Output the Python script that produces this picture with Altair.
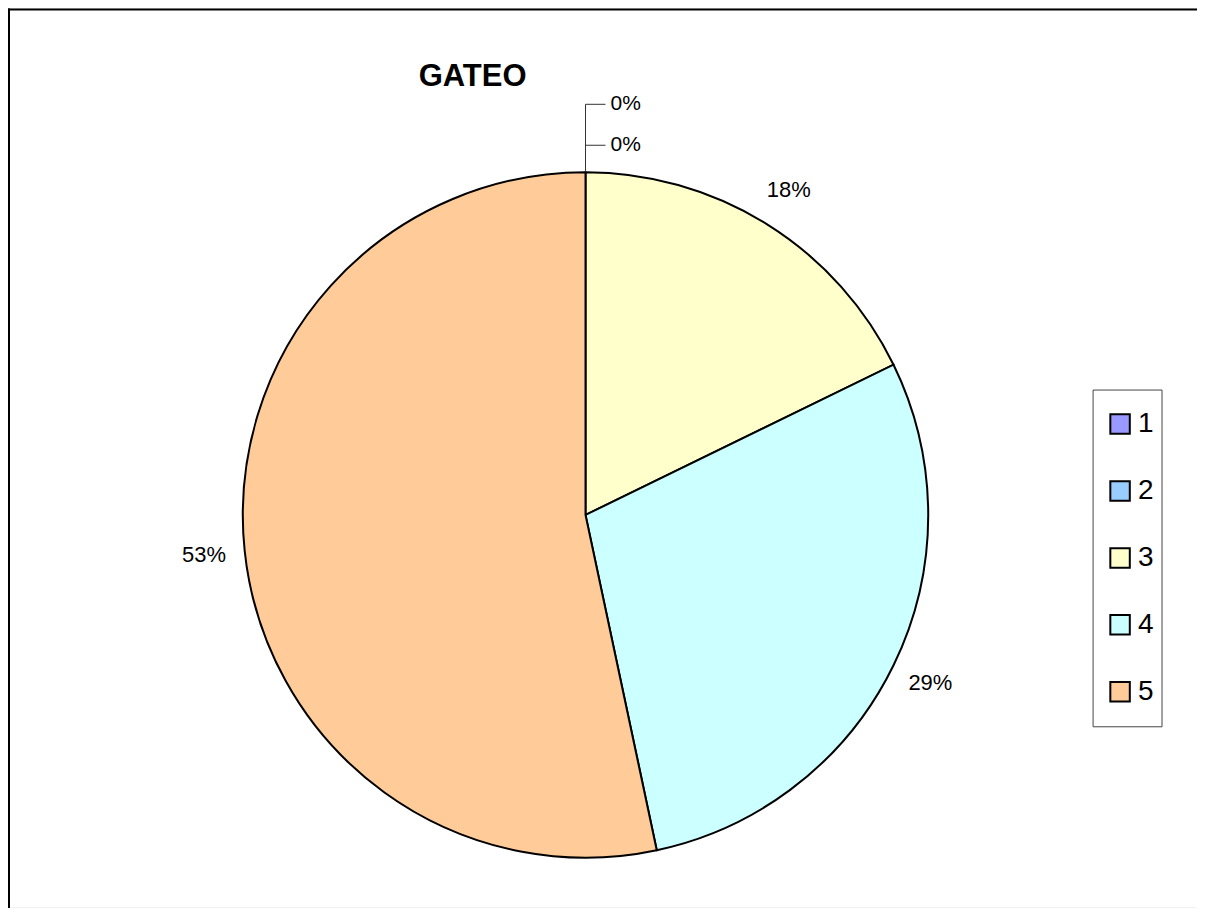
import altair as alt
import pandas as pd

categories = ["1", "2", "3", "4", "5"]
values = [0, 0, 8, 13, 24]
colors = ["#9999FF", "#99CCFF", "#FFFFCC", "#CCFFFF", "#FFCC99"]

df = pd.DataFrame({"category": categories, "value": values})

CX, CY = 578, 507
R = 343

color = alt.Color("category:N", scale=alt.Scale(domain=categories, range=colors),
                  legend=alt.Legend(title=None, orient="none", legendX=1099, legendY=402,
                                    symbolType="square", symbolSize=380,
                                    symbolStrokeColor="black", symbolStrokeWidth=2,
                                    labelFontSize=28, labelFont="Liberation Sans",
                                    labelColor="black", rowPadding=39, labelOffset=4,
                                    padding=0, symbolOpacity=1))

base = alt.Chart(df).transform_joinaggregate(total="sum(value)").transform_calculate(
    pct="datum.value / datum.total"
)

pie = base.mark_arc(radius=R, stroke="black", strokeWidth=2).encode(
    theta=alt.Theta("value:Q", stack=True),
    color=color,
    order=alt.Order("category:N"),
    x=alt.value(CX), y=alt.value(CY),
)

labels = base.mark_text(radius=384, fontSize=22, font="Liberation Sans", color="black").encode(
    theta=alt.Theta("value:Q", stack=True),
    text=alt.Text("pct:Q", format=".0%"),
    order=alt.Order("category:N"),
    x=alt.value(CX), y=alt.value(CY),
    opacity=alt.condition("datum.value > 0", alt.value(1), alt.value(0)),
)

zero = base.transform_filter("datum.value == 0").transform_window(
    rank="row_number()"
).transform_calculate(ly="96 + 41 * (datum.rank - 1)")

zero_text = zero.mark_text(align="left", baseline="middle", fontSize=21,
                           font="Liberation Sans", color="black").encode(
    x=alt.value(CX + 25),
    y=alt.Y("ly:Q", scale=None),
    text=alt.Text("pct:Q", format=".0%"),
)
zero_h = zero.mark_rule(color="#333333", strokeWidth=1).encode(
    x=alt.value(CX), x2=alt.value(CX + 20), y=alt.Y("ly:Q", scale=None)
)
zero_v = zero.mark_rule(color="#333333", strokeWidth=1).encode(
    x=alt.value(CX), y=alt.Y("ly:Q", scale=None), y2=alt.value(CY - R)
)

title = alt.Chart(df).mark_text(fontSize=31, fontWeight="bold", font="Liberation Sans",
                                color="black").encode(
    x=alt.value(465), y=alt.value(69), text=alt.value("GATEO")
).transform_filter("datum.category == '1'")

legend_box = alt.Chart(df).mark_rect(fill=None, stroke="#444444", strokeWidth=1).encode(
    x=alt.value(1086), x2=alt.value(1155), y=alt.value(382), y2=alt.value(719)
).transform_filter("datum.category == '1'")

frame_top = alt.Chart(df).mark_rule(color="black", strokeWidth=2).encode(
    x=alt.value(0), x2=alt.value(1300), y=alt.value(1)
).transform_filter("datum.category == '1'")
frame_left = alt.Chart(df).mark_rule(color="black", strokeWidth=2).encode(
    x=alt.value(1), y=alt.value(0), y2=alt.value(1000)
).transform_filter("datum.category == '1'")

chart = alt.layer(
    frame_top, frame_left, pie, labels, zero_v, zero_h, zero_text, title, legend_box
).properties(
    width=1190, height=900, padding=0, autosize=alt.AutoSizeParams(type="none")
).configure_view(stroke=None).configure(background="white")

chart.save("out.html", embed_options={"renderer": "svg", "actions": False})
